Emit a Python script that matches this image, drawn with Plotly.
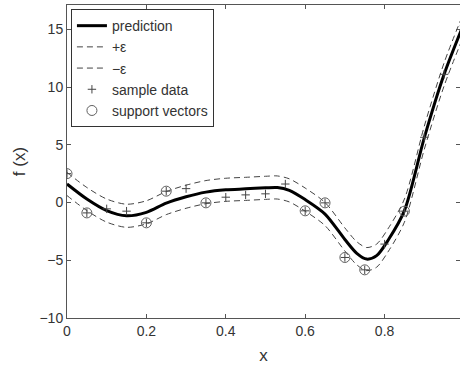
import plotly.graph_objects as go

# prediction curve
pred_x = [0, 0.05, 0.1, 0.15, 0.2, 0.25, 0.3, 0.35, 0.4, 0.45, 0.5, 0.53, 0.56, 0.6, 0.65, 0.7, 0.73, 0.755, 0.78, 0.81, 0.85, 0.9, 0.95, 1.0]
pred_y = [1.6, 0.3, -0.7, -1.15, -0.85, -0.05, 0.5, 0.9, 1.1, 1.18, 1.27, 1.3, 1.05, 0.25, -1.0, -3.2, -4.4, -4.9, -4.6, -3.2, -0.7, 5.6, 11.1, 15.5]
upper_y = [2.6, 1.3, 0.3, -0.15, 0.15, 0.95, 1.5, 1.9, 2.1, 2.18, 2.27, 2.3, 2.05, 1.25, 0.0, -2.2, -3.4, -3.9, -3.6, -2.2, 0.3, 6.6, 12.1, 16.5]
lower_y = [0.6, -0.7, -1.7, -2.15, -1.85, -1.05, -0.5, -0.1, 0.1, 0.18, 0.27, 0.3, 0.05, -0.75, -2.0, -4.2, -5.4, -5.9, -5.6, -4.2, -1.7, 4.6, 10.1, 14.5]

# sample data
sample_x = [0, 0.05, 0.1, 0.15, 0.2, 0.25, 0.3, 0.35, 0.4, 0.45, 0.5, 0.55, 0.6, 0.65, 0.7, 0.75, 0.8, 0.85, 0.9, 0.95, 1.0]
sample_y = [2.5, -0.9, -0.55, -0.75, -1.76, 0.98, 1.2, -0.03, 0.46, 0.66, 0.75, 1.6, -0.72, -0.03, -4.76, -5.83, -3.6, -0.75, 5.65, 11.1, 15.3]

# support vectors
sv_x = [0, 0.05, 0.2, 0.25, 0.35, 0.6, 0.65, 0.7, 0.75, 0.85]
sv_y = [2.5, -0.9, -1.76, 0.98, -0.03, -0.72, -0.03, -4.76, -5.83, -0.75]

x_ticks = [0, 0.2, 0.4, 0.6, 0.8]
x_ticktext = ["0", "0.2", "0.4", "0.6", "0.8"]
y_ticks = [-10, -5, 0, 5, 10, 15]
y_ticktext = ["\u221210", "\u22125", "0", "5", "10", "15"]

FONT = "Liberation Sans, Arial, sans-serif"
TXT = "#333333"
AX = "#555555"

fig = go.Figure()
fig.add_trace(go.Scatter(x=pred_x, y=pred_y, mode="lines", name="prediction",
                         line=dict(color="black", width=3, shape="spline", smoothing=0.8)))
fig.add_trace(go.Scatter(x=pred_x, y=upper_y, mode="lines", name="+\u03b5",
                         line=dict(color="#444444", width=1, dash="6px,4px", shape="spline", smoothing=0.8)))
fig.add_trace(go.Scatter(x=pred_x, y=lower_y, mode="lines", name="\u2212\u03b5",
                         line=dict(color="#444444", width=1, dash="6px,4px", shape="spline", smoothing=0.8)))
fig.add_trace(go.Scatter(x=sample_x, y=sample_y, mode="markers", name="sample data",
                         marker=dict(symbol="cross-thin", size=6, line=dict(color="#444444", width=1))))
fig.add_trace(go.Scatter(x=sv_x, y=sv_y, mode="markers", name="support vectors",
                         marker=dict(symbol="circle-open", size=10, color="#606060", line=dict(width=1))))

fig.update_layout(
    width=460, height=365,
    margin=dict(l=67, r=0, t=5, b=47),
    paper_bgcolor="white", plot_bgcolor="white",
    font=dict(family=FONT, size=14, color=TXT),
    showlegend=True,
    legend=dict(x=0.01, y=0.987, xanchor="left", yanchor="top",
                bordercolor="#333333", borderwidth=1, bgcolor="white",
                font=dict(size=14, color=TXT), tracegroupgap=0, itemwidth=30),
)
fig.update_xaxes(range=[0, 0.99], tickvals=x_ticks, ticktext=x_ticktext,
                 ticks="inside", ticklen=4, tickcolor=AX, showline=True, linecolor=AX,
                 linewidth=1, mirror="ticks", showgrid=False, zeroline=False,
                 title=dict(text="x", standoff=12))
fig.update_yaxes(range=[-10, 17.1], tickvals=y_ticks, ticktext=y_ticktext,
                 ticks="inside", ticklen=4, tickcolor=AX, showline=True, linecolor=AX,
                 linewidth=1, mirror="ticks", showgrid=False, zeroline=False,
                 title=dict(text="f (x)", standoff=9))

fig.write_html("out.html")
